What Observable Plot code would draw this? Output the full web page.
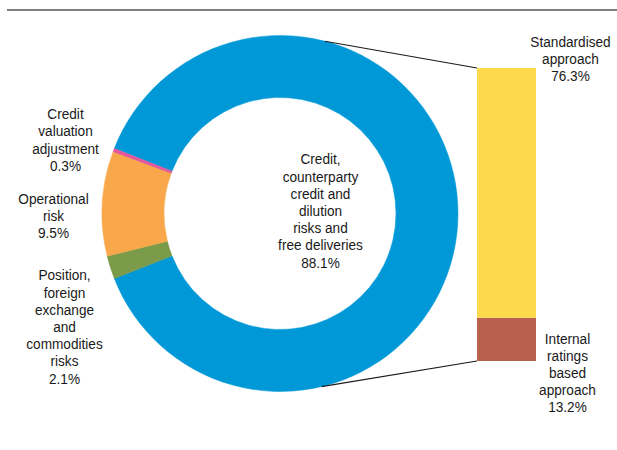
<!DOCTYPE html>
<html>
<head>
<meta charset="utf-8">
<script src="https://cdn.jsdelivr.net/npm/d3@7"></script>
<script src="https://cdn.jsdelivr.net/npm/@observablehq/plot@0.6"></script>
<style>
  html, body { margin: 0; padding: 0; background: #ffffff; }
  #chart svg { display: block; }
</style>
</head>
<body>
<div id="chart"></div>
<script>
// ---- Data ----
const riskCategories = [
  "Credit, counterparty credit and dilution risks and free deliveries",
  "Position, foreign exchange and commodities risks",
  "Operational risk",
  "Credit valuation adjustment"
];
const riskShares = [88.1, 2.1, 9.5, 0.3];
const riskLabels = [
  "Credit,\ncounterparty\ncredit and\ndilution\nrisks and\nfree deliveries\n88.1%",
  "Position,\nforeign\nexchange\nand\ncommodities\nrisks\n2.1%",
  "Operational\nrisk\n9.5%",
  "Credit\nvaluation\nadjustment\n0.3%"
];
const approachCategories = ["Internal ratings based approach", "Standardised approach"];
const approachShares = [13.2, 76.3];
const approachLabels = [
  "Internal\nratings\nbased\napproach\n13.2%",
  "Standardised\napproach\n76.3%"
];

// ---- Styles ----
const riskColors = ["#0098d6", "#7b9b4a", "#f8a84b", "#e2579b"];
const approachColors = ["#b8614e", "#fdd94c"];
const FONT = '"Liberation Sans", Arial, sans-serif';
const FONT_SIZE = 15.5;
const LINE_HEIGHT = 1.11;
const TEXT_SCALE_X = 0.88; // narrow the glyphs to imitate a condensed face

// ---- Layout ----
const W = 617, H = 450;
const donut = { cx: 280, cy: 213.5, rOuter: 178, rInner: 116 };
const bar = { x1: 477, x2: 536, top: 68, bottom: 361 };
const connectorAngles = [14.6, 166.5]; // degrees, clockwise from 12 o'clock
const riskLabelPos = [[320, 210], [64, 326], [53, 215], [65, 139]];
const approachLabelPos = [[567, 372], [570, 58]];

const riskData = riskCategories.map((name, i) => ({ name, share: riskShares[i], label: riskLabels[i] }));
const approachData = approachCategories.map((name, i) => ({ name, share: approachShares[i], label: approachLabels[i] }));
const approachTotal = d3.sum(approachShares);
const riskTotal = d3.sum(riskShares);

// Donut rendered through d3.pie / d3.arc as a Plot render-function mark
function donutMark(index, scales, values, dimensions) {
  const color = scales.color || d3.scaleOrdinal(riskCategories, riskColors);
  const firstShare = riskShares[0] / riskTotal;
  const a0 = Math.PI / 2 - firstShare * Math.PI; // centre the main slice at 3 o'clock
  const pie = d3.pie().sort(null).value(d => d.share).startAngle(a0).endAngle(a0 + 2 * Math.PI);
  const arc = d3.arc().innerRadius(donut.rInner).outerRadius(donut.rOuter);
  const g = d3.create("svg:g");
  // top rule
  g.append("line")
    .attr("x1", 7).attr("x2", W).attr("y1", 10).attr("y2", 10)
    .attr("stroke", "#555").attr("stroke-width", 1.6);
  const dg = g.append("g").attr("transform", `translate(${donut.cx},${donut.cy})`);
  dg.selectAll("path").data(pie(riskData)).join("path")
    .attr("d", arc)
    .attr("fill", d => color(d.data.name))
    .attr("stroke", d => color(d.data.name))
    .attr("stroke-width", 0.5);
  // connectors from the donut to the stacked bar
  const yTop = scales.y(approachTotal), yBot = scales.y(0);
  const xBar = scales.x(bar.x1);
  const ends = [[xBar, yTop], [xBar, yBot]];
  connectorAngles.forEach((deg, i) => {
    const a = deg * Math.PI / 180;
    const px = donut.cx + donut.rOuter * Math.sin(a);
    const py = donut.cy - donut.rOuter * Math.cos(a);
    g.append("line")
      .attr("x1", px).attr("y1", py)
      .attr("x2", ends[i][0]).attr("y2", ends[i][1])
      .attr("stroke", "#1a1a1a").attr("stroke-width", 1.2);
  });
  return g.node();
}

const textOpts = {
  fontSize: FONT_SIZE,
  lineHeight: LINE_HEIGHT,
  fill: "#1a1a1a",
  textAnchor: "middle",
  lineAnchor: "middle",
  frameAnchor: "top-left"
};

const labelMarks = [
  ...riskData.map((d, i) => Plot.text([d], { ...textOpts, text: "label", dx: riskLabelPos[i][0], dy: riskLabelPos[i][1] })),
  ...approachData.map((d, i) => Plot.text([d], { ...textOpts, text: "label", dx: approachLabelPos[i][0], dy: approachLabelPos[i][1] }))
];

const chart = Plot.plot({
  width: W,
  height: H,
  margin: 0,
  style: { fontFamily: FONT, background: "#ffffff", overflow: "visible" },
  x: { type: "identity", axis: null },
  y: { domain: [0, approachTotal], range: [bar.bottom, bar.top], axis: null },
  color: {
    domain: [...riskCategories, ...approachCategories],
    range: [...riskColors, ...approachColors]
  },
  marks: [
    Plot.rectY(approachData, Plot.stackY({ x1: bar.x1, x2: bar.x2, y: "share", fill: "name", order: null })),
    donutMark,
    ...labelMarks
  ]
});

// condense the label glyphs horizontally around each label's anchor
chart.querySelectorAll('g[aria-label="text"] text').forEach(t => {
  let tr = t.getAttribute("transform") || "";
  const x = t.getAttribute("x"), y = t.getAttribute("y");
  if (x != null || y != null) {
    tr += ` translate(${x || 0},${y || 0})`;
    t.removeAttribute("x");
    t.removeAttribute("y");
  }
  t.setAttribute("transform", `${tr} scale(${TEXT_SCALE_X},1)`);
});

document.getElementById("chart").appendChild(chart);
</script>
</body>
</html>
